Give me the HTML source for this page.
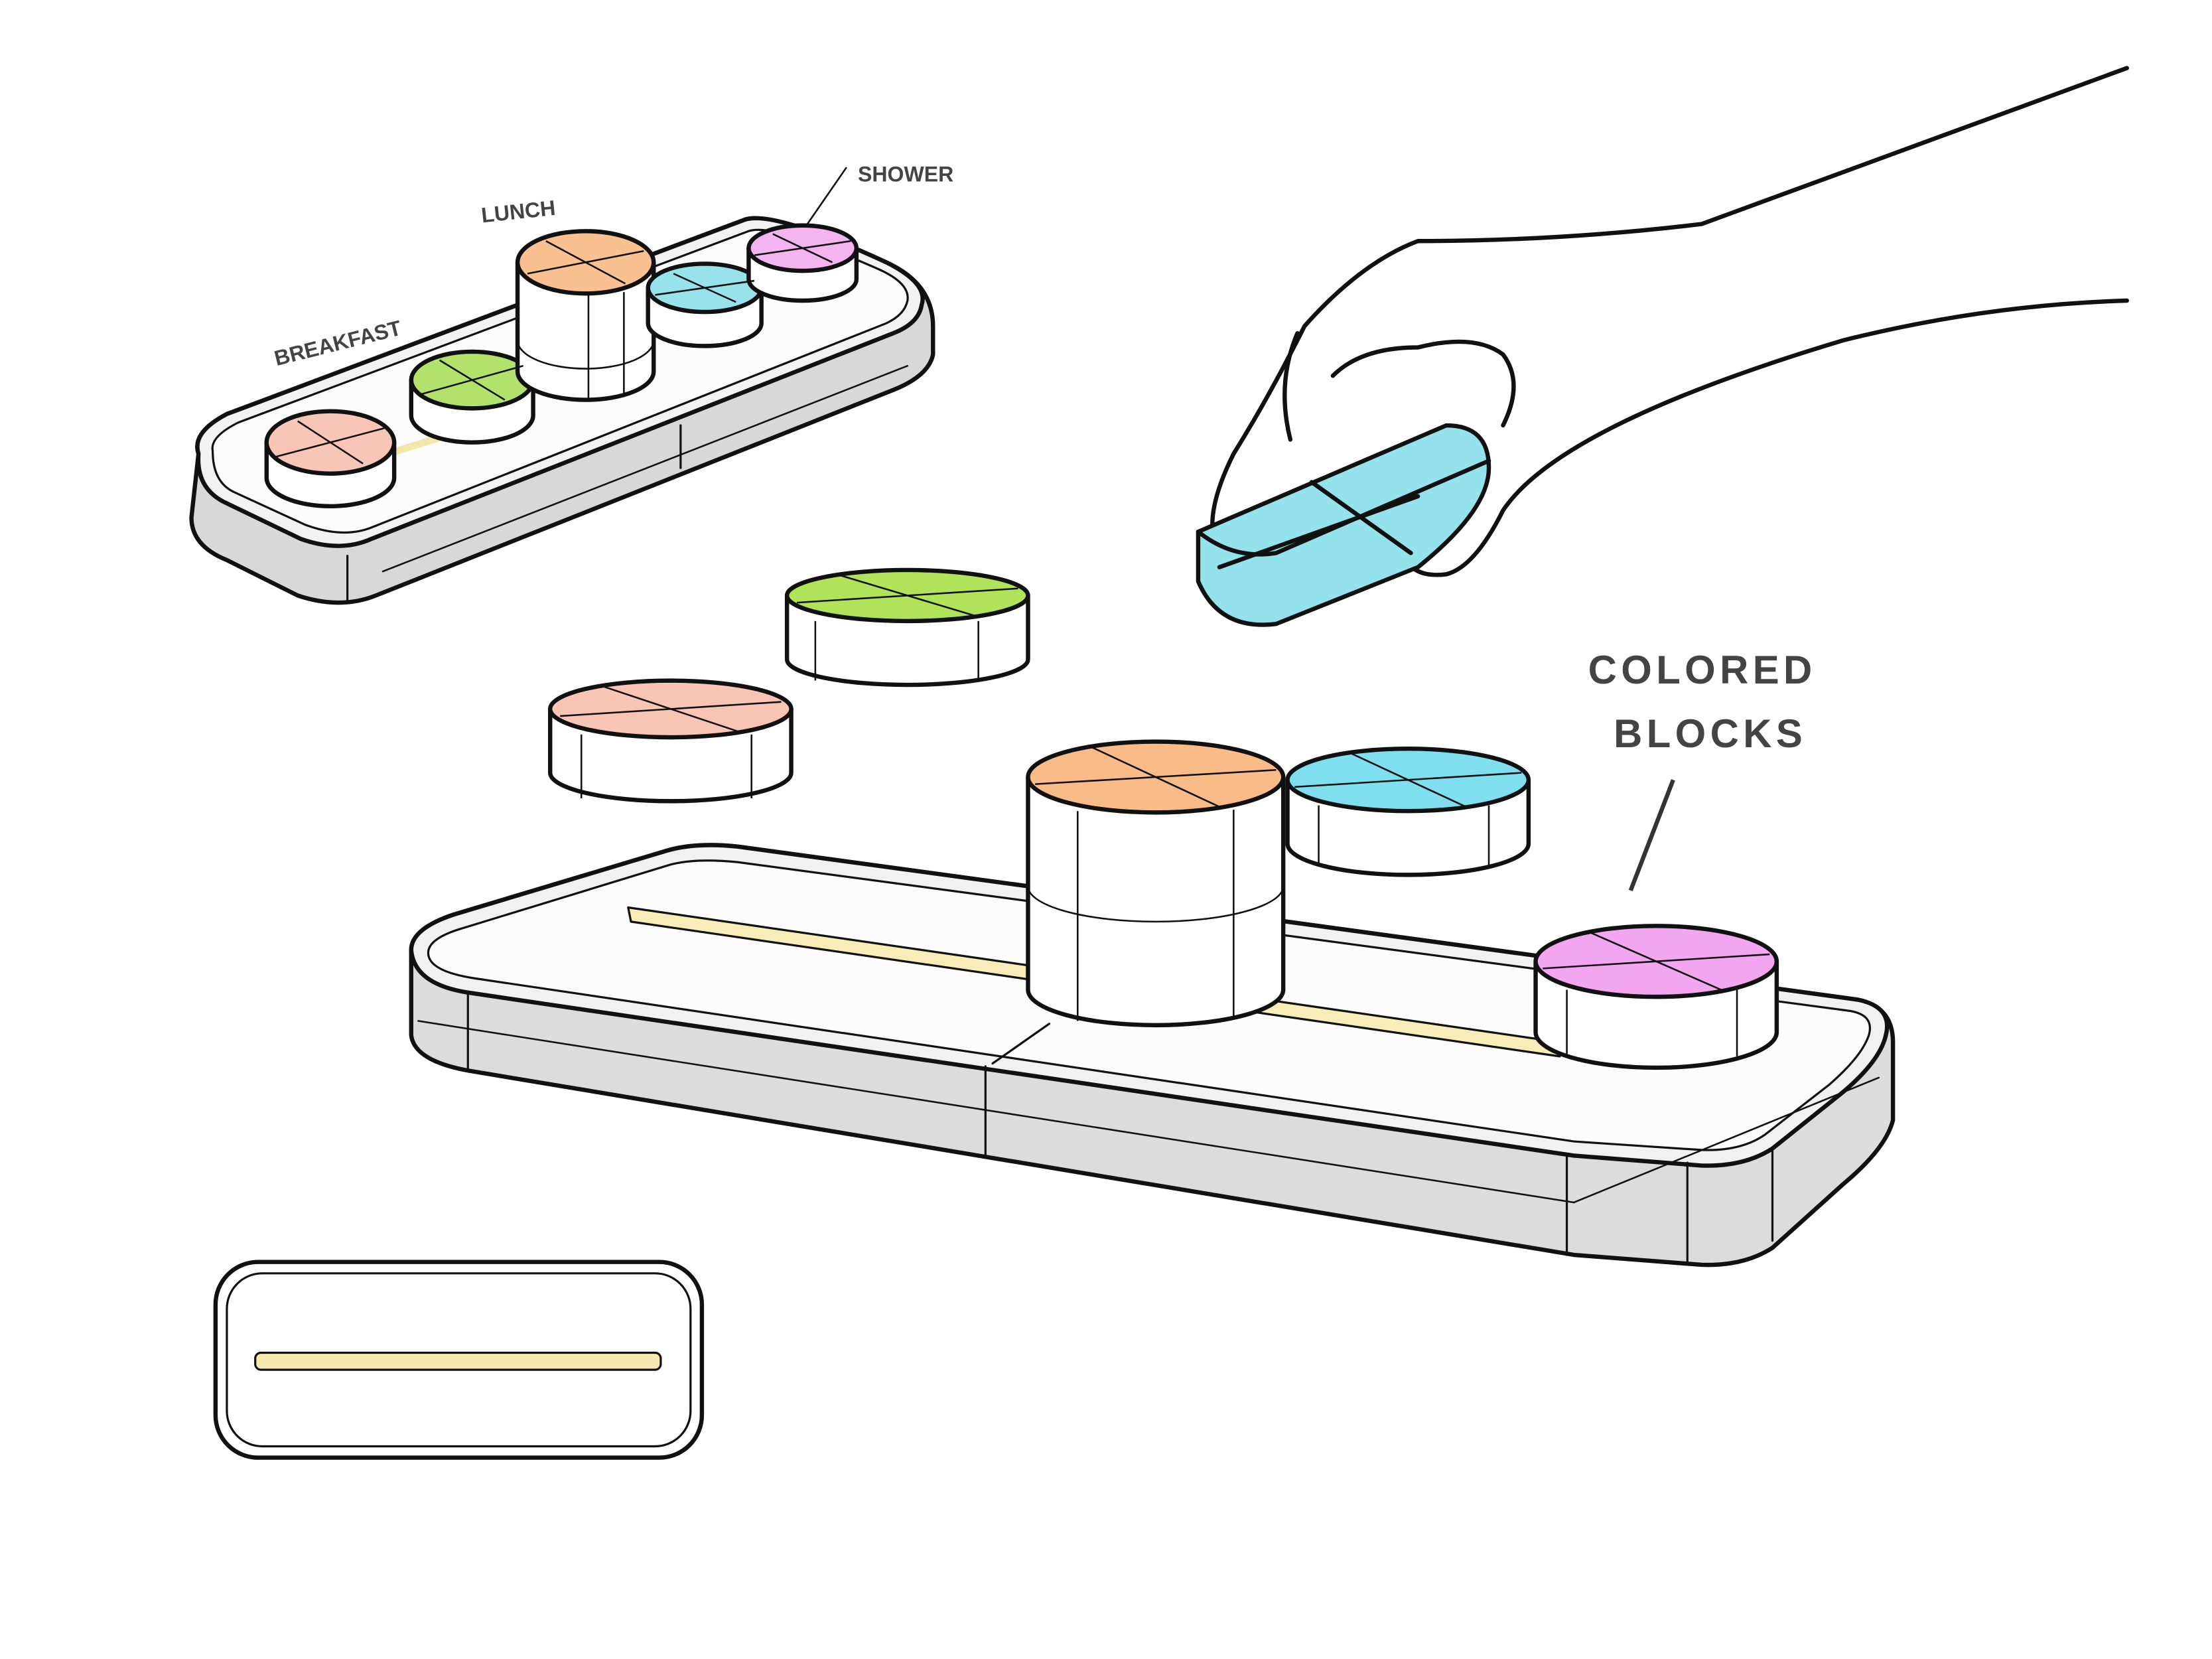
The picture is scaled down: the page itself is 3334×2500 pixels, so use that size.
<!DOCTYPE html>
<html><head><meta charset="utf-8"><style>
html,body{margin:0;padding:0;background:#fff}
svg{display:block}
text{font-family:"Liberation Sans",sans-serif;font-weight:bold;fill:#444}
</style></head><body>
<svg width="3334" height="2500" viewBox="0 0 1560 1170" preserveAspectRatio="none" xmlns="http://www.w3.org/2000/svg">
<rect width="1560" height="1170" fill="#fff"/>
<g stroke="#111" stroke-width="3" stroke-linejoin="round" stroke-linecap="round">
<path d="M140,320 Q135,305 160,292 L525,155 Q545,148 625,185 Q658,200 658,230 L658,250 Q655,265 630,275 L265,420 Q240,430 210,420 L160,395 Q135,385 135,365 Z" fill="#d8d8d8"/>
<path d="M140,320 Q135,305 160,292 L525,155 Q545,148 625,185 Q655,200 650,215 Q648,228 630,235 L262,380 Q240,390 212,380 L160,355 Q138,345 140,320 Z" fill="#f2f2f2"/>
<path d="M150,318 Q148,308 168,298 L528,163 Q545,157 620,190 Q642,200 640,212 Q638,222 625,228 L262,372 Q242,380 215,370 L165,347 Q150,340 150,318 Z" fill="#fbfbfb" stroke-width="1.5"/>
<line x1="245" y1="392" x2="245" y2="425" stroke-width="1.5"/>
<line x1="480" y1="300" x2="480" y2="330" stroke-width="1.5"/>
<line x1="270" y1="403" x2="640" y2="258" stroke-width="1.2"/>
<line x1="280" y1="318" x2="370" y2="290" stroke="#f3e7a8" stroke-width="5"/>
<path d="M290,670 Q290,655 320,645 L470,600 Q490,594 520,597 L1310,705 Q1335,710 1335,735 L1335,790 Q1330,810 1300,835 L1250,880 Q1230,893 1200,892 L1110,885 L330,755 Q292,748 290,730 Z" fill="#dcdcdc"/>
<path d="M290,670 Q290,655 320,645 L470,600 Q490,594 520,597 L1310,705 Q1335,710 1330,730 Q1326,748 1300,770 L1250,810 Q1230,823 1200,822 L1110,815 L330,700 Q292,694 290,670 Z" fill="#f1f1f1"/>
<path d="M302,672 Q302,662 325,655 L472,610 Q490,605 520,608 L1305,713 Q1322,716 1318,730 Q1313,745 1290,765 L1245,800 Q1228,812 1200,811 L1110,805 L335,690 Q302,685 302,672 Z" fill="#fcfcfc" stroke-width="1.5"/>
<line x1="330" y1="700" x2="330" y2="755" stroke-width="1.5"/>
<line x1="695" y1="752" x2="695" y2="815" stroke-width="1.5"/>
<line x1="1105" y1="815" x2="1105" y2="885" stroke-width="1.5"/>
<line x1="1190" y1="820" x2="1190" y2="890" stroke-width="1.5"/>
<line x1="1250" y1="810" x2="1250" y2="875" stroke-width="1.5"/>
<line x1="295" y1="720" x2="1110" y2="848" stroke-width="1.2"/>
<line x1="1110" y1="848" x2="1325" y2="760" stroke-width="1.2"/>
<path d="M443,640 L445,650 L1100,745 L1100,735 Z" fill="#f8ecb8" stroke-width="1.5"/>
<line x1="700" y1="750" x2="740" y2="722" stroke-width="1.5"/>
<rect x="152" y="890" width="343" height="138" rx="30" fill="#fff"/>
<rect x="160" y="898" width="327" height="122" rx="25" fill="#fff" stroke-width="1.5"/>
<rect x="180" y="954" width="286" height="12" rx="4" fill="#f6e9b0" stroke-width="1.5"/>
</g>
<g stroke="#111" stroke-width="3" stroke-linejoin="round">
<path d="M188,312 L188,337 A45,20 0 0 0 278,337 L278,312 Z" fill="#fff"/><ellipse cx="233" cy="312" rx="45" ry="22" fill="#f8c6b6"/>
<path d="M290,268 L290,293 A43,19 0 0 0 376,293 L376,268 Z" fill="#fff"/><ellipse cx="333" cy="268" rx="43" ry="20" fill="#b2e26c"/>
<path d="M365,185 L365,262 A48,20 0 0 0 461,262 L461,185 Z" fill="#fff"/><ellipse cx="413" cy="185" rx="48" ry="22" fill="#f9c090"/>
<path d="M457,203 L457,228 A40,16 0 0 0 537,228 L537,203 Z" fill="#fff"/><ellipse cx="497" cy="203" rx="40" ry="17" fill="#98e2ec"/>
<path d="M528,175 L528,197 A38,15 0 0 0 604,197 L604,175 Z" fill="#fff"/><ellipse cx="566" cy="175" rx="38" ry="16" fill="#f4b4f0"/>
<path d="M388,500 L388,545 A85,20 0 0 0 558,545 L558,500 Z" fill="#fff"/><ellipse cx="473" cy="500" rx="85" ry="20" fill="#f8c4b4"/>
<path d="M555,420 L555,465 A85,18 0 0 0 725,465 L725,420 Z" fill="#fff"/><ellipse cx="640" cy="420" rx="85" ry="18" fill="#b0e25a"/>
<path d="M725,548 L725,698 A90,25 0 0 0 905,698 L905,548 Z" fill="#fff"/><ellipse cx="815" cy="548" rx="90" ry="25" fill="#f9bb88"/>
<path d="M908,550 L908,595 A85,22 0 0 0 1078,595 L1078,550 Z" fill="#fff"/><ellipse cx="993" cy="550" rx="85" ry="22" fill="#7fdfee"/>
<path d="M1083,678 L1083,728 A85,25 0 0 0 1253,728 L1253,678 Z" fill="#fff"/><ellipse cx="1168" cy="678" rx="85" ry="25" fill="#f3a6f0"/>
</g>
<g stroke="#111" stroke-width="1.2" fill="none">
<path d="M195,322 L271,302 M210,297 L256,327 M297,278 L369,258 M310,254 L356,282 M372,193 L454,177 M385,170 L441,200 M462,208 L532,198 M475,193 L519,213 M532,180 L600,170 M545,165 L587,185"/>
<path d="M395,505 L551,495 M425,484 L521,516 M562,425 L718,415 M590,405 L690,435 M730,553 L900,543 M770,527 L860,569 M913,555 L1073,545 M950,530 L1036,570 M1088,683 L1248,673 M1120,657 L1216,699"/>
<path d="M365,240 A48,20 0 0 0 461,240 M725,625 A90,25 0 0 0 905,625 M415,208 L415,282 M440,206 L440,280 M760,572 L760,720 M870,571 L870,718"/>
<path d="M410,518 L410,563 M530,518 L530,563 M575,438 L575,480 M690,438 L690,480 M930,568 L930,610 M1050,568 L1050,610 M1105,698 L1105,745 M1225,698 L1225,745"/>
<path d="M568,160 L597,118"/>
</g>
<g stroke="#111" stroke-width="3" fill="none" stroke-linecap="round" stroke-linejoin="round">
<path d="M1500,48 L1200,158 Q1100,170 1000,170 Q960,185 920,230 Q895,280 870,320 Q855,350 855,370"/>
<path d="M1500,212 Q1400,215 1300,240 Q1200,270 1140,300 Q1080,330 1060,360 Q1040,400 1020,405 Q995,408 990,390"/>
<path d="M915,235 Q900,270 910,310"/>
<path d="M940,265 Q960,245 1000,245 Q1040,235 1060,250 Q1075,270 1060,300"/>
<path d="M845,375 L1020,300 Q1050,300 1050,330 Q1050,360 1000,400 L900,440 Q860,445 845,410 Z" fill="#93e2ec"/>
<path d="M845,375 Q870,395 900,390 L1050,325 M925,340 L995,390 M860,400 L1000,350"/>
</g>
<line x1="1180" y1="550" x2="1150" y2="628" stroke="#333" stroke-width="3"/>
<text x="195" y="258" font-size="15" transform="rotate(-14 195 258)">BREAKFAST</text>
<text x="340" y="157" font-size="15" transform="rotate(-6 340 157)">LUNCH</text>
<text x="605" y="128" font-size="15">SHOWER</text>
<text x="1120" y="482" font-size="28" letter-spacing="3">COLORED</text>
<text x="1138" y="527" font-size="28" letter-spacing="3">BLOCKS</text>
</svg>
</body></html>
